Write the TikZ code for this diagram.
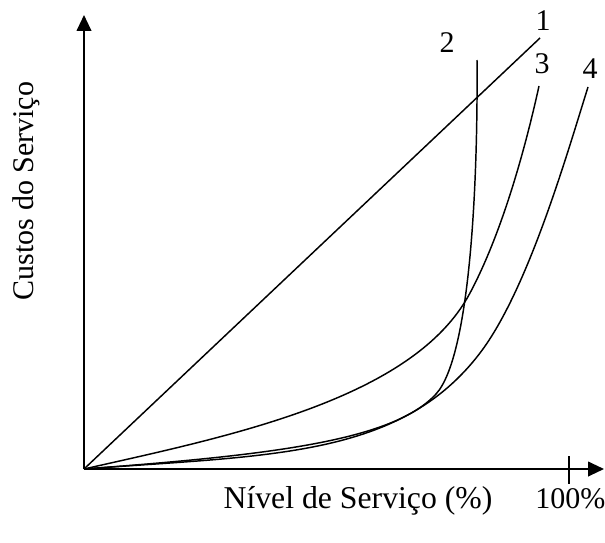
\documentclass[tikz,border=0pt]{standalone}
\usepackage{fontspec}
\setmainfont{Liberation Serif}
\usetikzlibrary{arrows.meta}
\begin{document}
\begin{tikzpicture}[x=0.75pt,y=-0.75pt,
  axis/.style={line width=1.5pt,-{Triangle[length=12pt,width=11pt]}},
  curve/.style={line width=1.1pt},
  lbl/.style={font=\fontsize{22.5}{27}\selectfont, inner sep=0pt}]
\useasboundingbox (0,0) rectangle (605,542);
\coordinate (O) at (84,469);
\coordinate (Ytop) at (84,15);
\coordinate (Xend) at (604,469);
\coordinate (E1) at (540,38);
\coordinate (M2) at (436,394);
\coordinate (E2) at (477,60);
\coordinate (M3) at (470,293);
\coordinate (E3) at (539,86);
\coordinate (M4) at (480,353);
\coordinate (E4) at (588,87);
\coordinate (T1) at (569,456);
\coordinate (T2) at (569,484);
% axes
\draw[axis] (O) -- (Ytop);
\draw[axis] (O) -- (Xend);
\draw[line width=1.1pt] (T1) -- (T2);
% curves
\draw[curve] (O) -- (E1);
\draw[curve] (O) .. controls (270,455) and (393,441) .. (M2)
                 .. controls (470,357) and (478,185) .. (E2);
\draw[curve] (O) .. controls (230,436) and (414,399) .. (M3)
                 .. controls (503,231) and (526,145) .. (E3);
\draw[curve] (O) .. controls (270,455) and (400,458) .. (M4)
                 .. controls (528,290) and (567,154) .. (E4);
% labels
\node[lbl,anchor=base] (L1) at (543,31) {1};
\node[lbl,anchor=base] (L2) at (447,53) {2};
\node[lbl,anchor=base] (L3) at (542,74) {3};
\node[lbl,anchor=base] (L4) at (590,78) {4};
\node[lbl,rotate=90] (LY) at (26,191) {Custos do Serviço};
\node[lbl,anchor=base,font=\fontsize{23.8}{27}\selectfont] (LX) at (358,508) {Nível de Serviço (\%)};
\node[lbl,anchor=base west] (L100) at (535,508) {100\%};
\end{tikzpicture}
\end{document}
